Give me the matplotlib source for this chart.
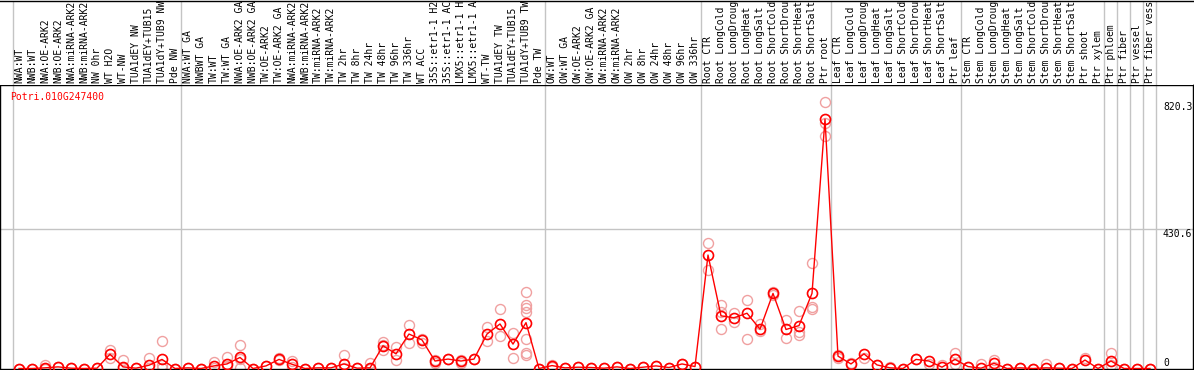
import matplotlib
matplotlib.use("Agg")
import matplotlib.pyplot as plt

# DATA
# ============================================================================
gene = "Potri.010G247400"

# sample names as far as the header shows them (14 characters)
labels = [
    "NWA:WT", "NWB:WT", "NWA:OE-ARK2", "NWB:OE-ARK2", "NWA:miRNA-ARK2",
    "NWB:miRNA-ARK2", "NW 0hr", "WT H2O", "WT-NW", "TUA1dEY NW",
    "TUA1dEY+TUB15", "TUA1dY+TUB9 NW", "Pde NW",
    "NWA:WT GA", "NWBWT GA", "TW:WT", "TW:WT GA", "NWA:OE-ARK2 GA",
    "NWB:OE-ARK2 GA", "TW:OE-ARK2", "TW:OE-ARK2 GA", "NWA:miRNA-ARK2",
    "NWB:miRNA-ARK2", "TW:miRNA-ARK2", "TW:miRNA-ARK2", "TW 2hr", "TW 8hr",
    "TW 24hr", "TW 48hr", "TW 96hr", "TW 336hr", "WT ACC",
    "35S::etr1-1 H2", "35S::etr1-1 AC", "LMX5::etr1-1 H",
    "LMX5::etr1-1 A", "WT-TW", "TUA1dEY TW", "TUA1dEY+TUB15",
    "TUA1dY+TUB9 TW", "Pde TW",
    "OW:WT", "OW:WT GA", "OW:OE-ARK2", "OW:OE-ARK2 GA", "OW:miRNA-ARK2",
    "OW:miRNA-ARK2", "OW 2hr", "OW 8hr", "OW 24hr", "OW 48hr", "OW 96hr",
    "OW 336hr",
    "Root CTR", "Root LongCold", "Root LongDroug", "Root LongHeat",
    "Root LongSalt", "Root ShortCold", "Root ShortDrou", "Root ShortHeat",
    "Root ShortSalt", "Ptr root",
    "Leaf CTR", "Leaf LongCold", "Leaf LongDroug", "Leaf LongHeat",
    "Leaf LongSalt", "Leaf ShortCold", "Leaf ShortDrou", "Leaf ShortHeat",
    "Leaf ShortSalt", "Ptr leaf",
    "Stem CTR", "Stem LongCold", "Stem LongDroug", "Stem LongHeat",
    "Stem LongSalt", "Stem ShortCold", "Stem ShortDrou", "Stem ShortHeat",
    "Stem ShortSalt", "Ptr shoot", "Ptr xylem",
    "Ptr phloem", "Ptr fiber", "Ptr vessel", "Ptr fiber vess",
]

means = [
    0, 0, 2, 5, 1, 0, 1, 44, 5, 1, 10, 28, 0,
    2, 0, 8, 14, 34, 0, 8, 28, 13, 0, 2, 2, 14, 1, 2, 70, 45, 106, 88,
    23, 29, 23, 29, 106, 137, 75, 141, 0,
    9, 2, 4, 3, 1, 5, 0, 4, 8, 3, 14, 6,
    349, 162, 156, 170, 121, 231, 120, 132, 231, 767,
    38, 14, 45, 11, 2, 0, 28, 23, 4, 28,
    6, 1, 16, 0, 2, 0, 2, 1, 0, 26, 0,
    23, 0, 0, 0,
]

reps = [
    [0], [0], [10, 0], [5], [1], [0], [1], [57, 32], [26, 3], [1], [32, 1],
    [86, 11, 2], [0],
    [2], [0], [21, 3], [34, 8], [72, 1, 30], [0], [8], [32, 25], [24, 5],
    [0], [2], [2], [43, 2], [1], [17, 0], [81, 57, 72], [67, 26], [134, 77],
    [92, 77], [18, 25], [29], [18, 27], [30], [129, 85], [183, 100],
    [108, 31], [234, 195, 185, 173, 90, 47, 41], [0],
    [12, 6], [2], [4], [3], [1], [5], [0], [4], [8], [3], [14], [6],
    [385, 303], [195, 175, 121], [170, 144], [211, 91], [137, 115],
    [236, 227], [149, 93], [177, 111, 103], [325, 188, 182],
    [820.3, 754, 715],
    [31, 40], [18], [31], [11], [4], [0], [28], [14], [12], [47, 13],
    [6], [14], [26, 6], [0], [2], [0], [14], [1], [0], [32], [0],
    [47, 11], [0], [0], [0],
]

ticks = [0, 430.6, 820.3]
group_edges = [-0.5, 12.5, 40.5, 52.5, 62.5, 72.5, 83.5, 84.5, 85.5, 86.5, 87.5]
# ============================================================================

W, H = 1194, 370
X0, DX = 19, 13          # pixel of first sample, pixel step
TOP, BOT = 85, 368.5     # plot area in pixels from the top
YMAX = 872


def px(p):
    return (p - X0) / DX


fig = plt.figure(figsize=(W / 100, H / 100), dpi=100)
mono = "DejaVu Sans Mono"

# MAIN PLOT AREA
ax = fig.add_axes([0, (H - BOT) / H, 1193 / W, (BOT - TOP) / H])
ax.set_xlim(px(0), px(1193))
ax.set_ylim(0, YMAX)
ax.set_xticks([])
ax.set_yticks([])
for s in ax.spines.values():
    s.set_color("black")
    s.set_linewidth(1.0)

for e in group_edges:
    ax.axvline(e, color="#c4c4c4", lw=1.0, zorder=1)
ax.axhline(ticks[1], color="#c4c4c4", lw=1.0, zorder=1)

xs = list(range(len(means)))
for i, r in enumerate(reps):
    ax.plot([i] * len(r), r, "o", ms=7.2, mfc="none", mec="#f0a0a0",
            mew=1.0, clip_on=False, zorder=2)
ax.plot(xs, means, "-", color="red", lw=1.0, zorder=3, clip_on=False)
ax.plot(xs, means, "o", ms=7.2, mfc="none", mec="red", mew=1.2,
        clip_on=False, zorder=4)

tx = px(1163)
ax.text(tx, ticks[2], "820.3", family=mono, fontsize=7.0, va="top", ha="left")
ax.text(tx, ticks[1], "430.6", family=mono, fontsize=7.0, va="top", ha="left")
ax.text(tx, ticks[0], "0", family=mono, fontsize=7.0, va="bottom", ha="left")
ax.text(px(10), YMAX - (97 - TOP) * YMAX / (BOT - TOP), gene, color="red",
        family=mono, fontsize=7.0, va="center", ha="left")

# HEADER WITH SAMPLE NAMES
hx = fig.add_axes([0, (H - TOP) / H, 1193 / W, (TOP - 0.5) / H])
hx.set_xlim(px(0), px(1193))
hx.set_ylim(0, TOP)
hx.set_xticks([])
hx.set_yticks([])
for k in ["left", "right", "bottom"]:
    hx.spines[k].set_visible(False)
hx.spines["top"].set_linewidth(1.0)
for e in group_edges:
    hx.axvline(e, color="#c4c4c4", lw=1.0)
for i, lab in enumerate(labels):
    hx.text(i, 1.7, lab, rotation=90, family=mono, fontsize=7.0,
            ha="center", va="bottom")

plt.savefig("out.png", dpi=100)
